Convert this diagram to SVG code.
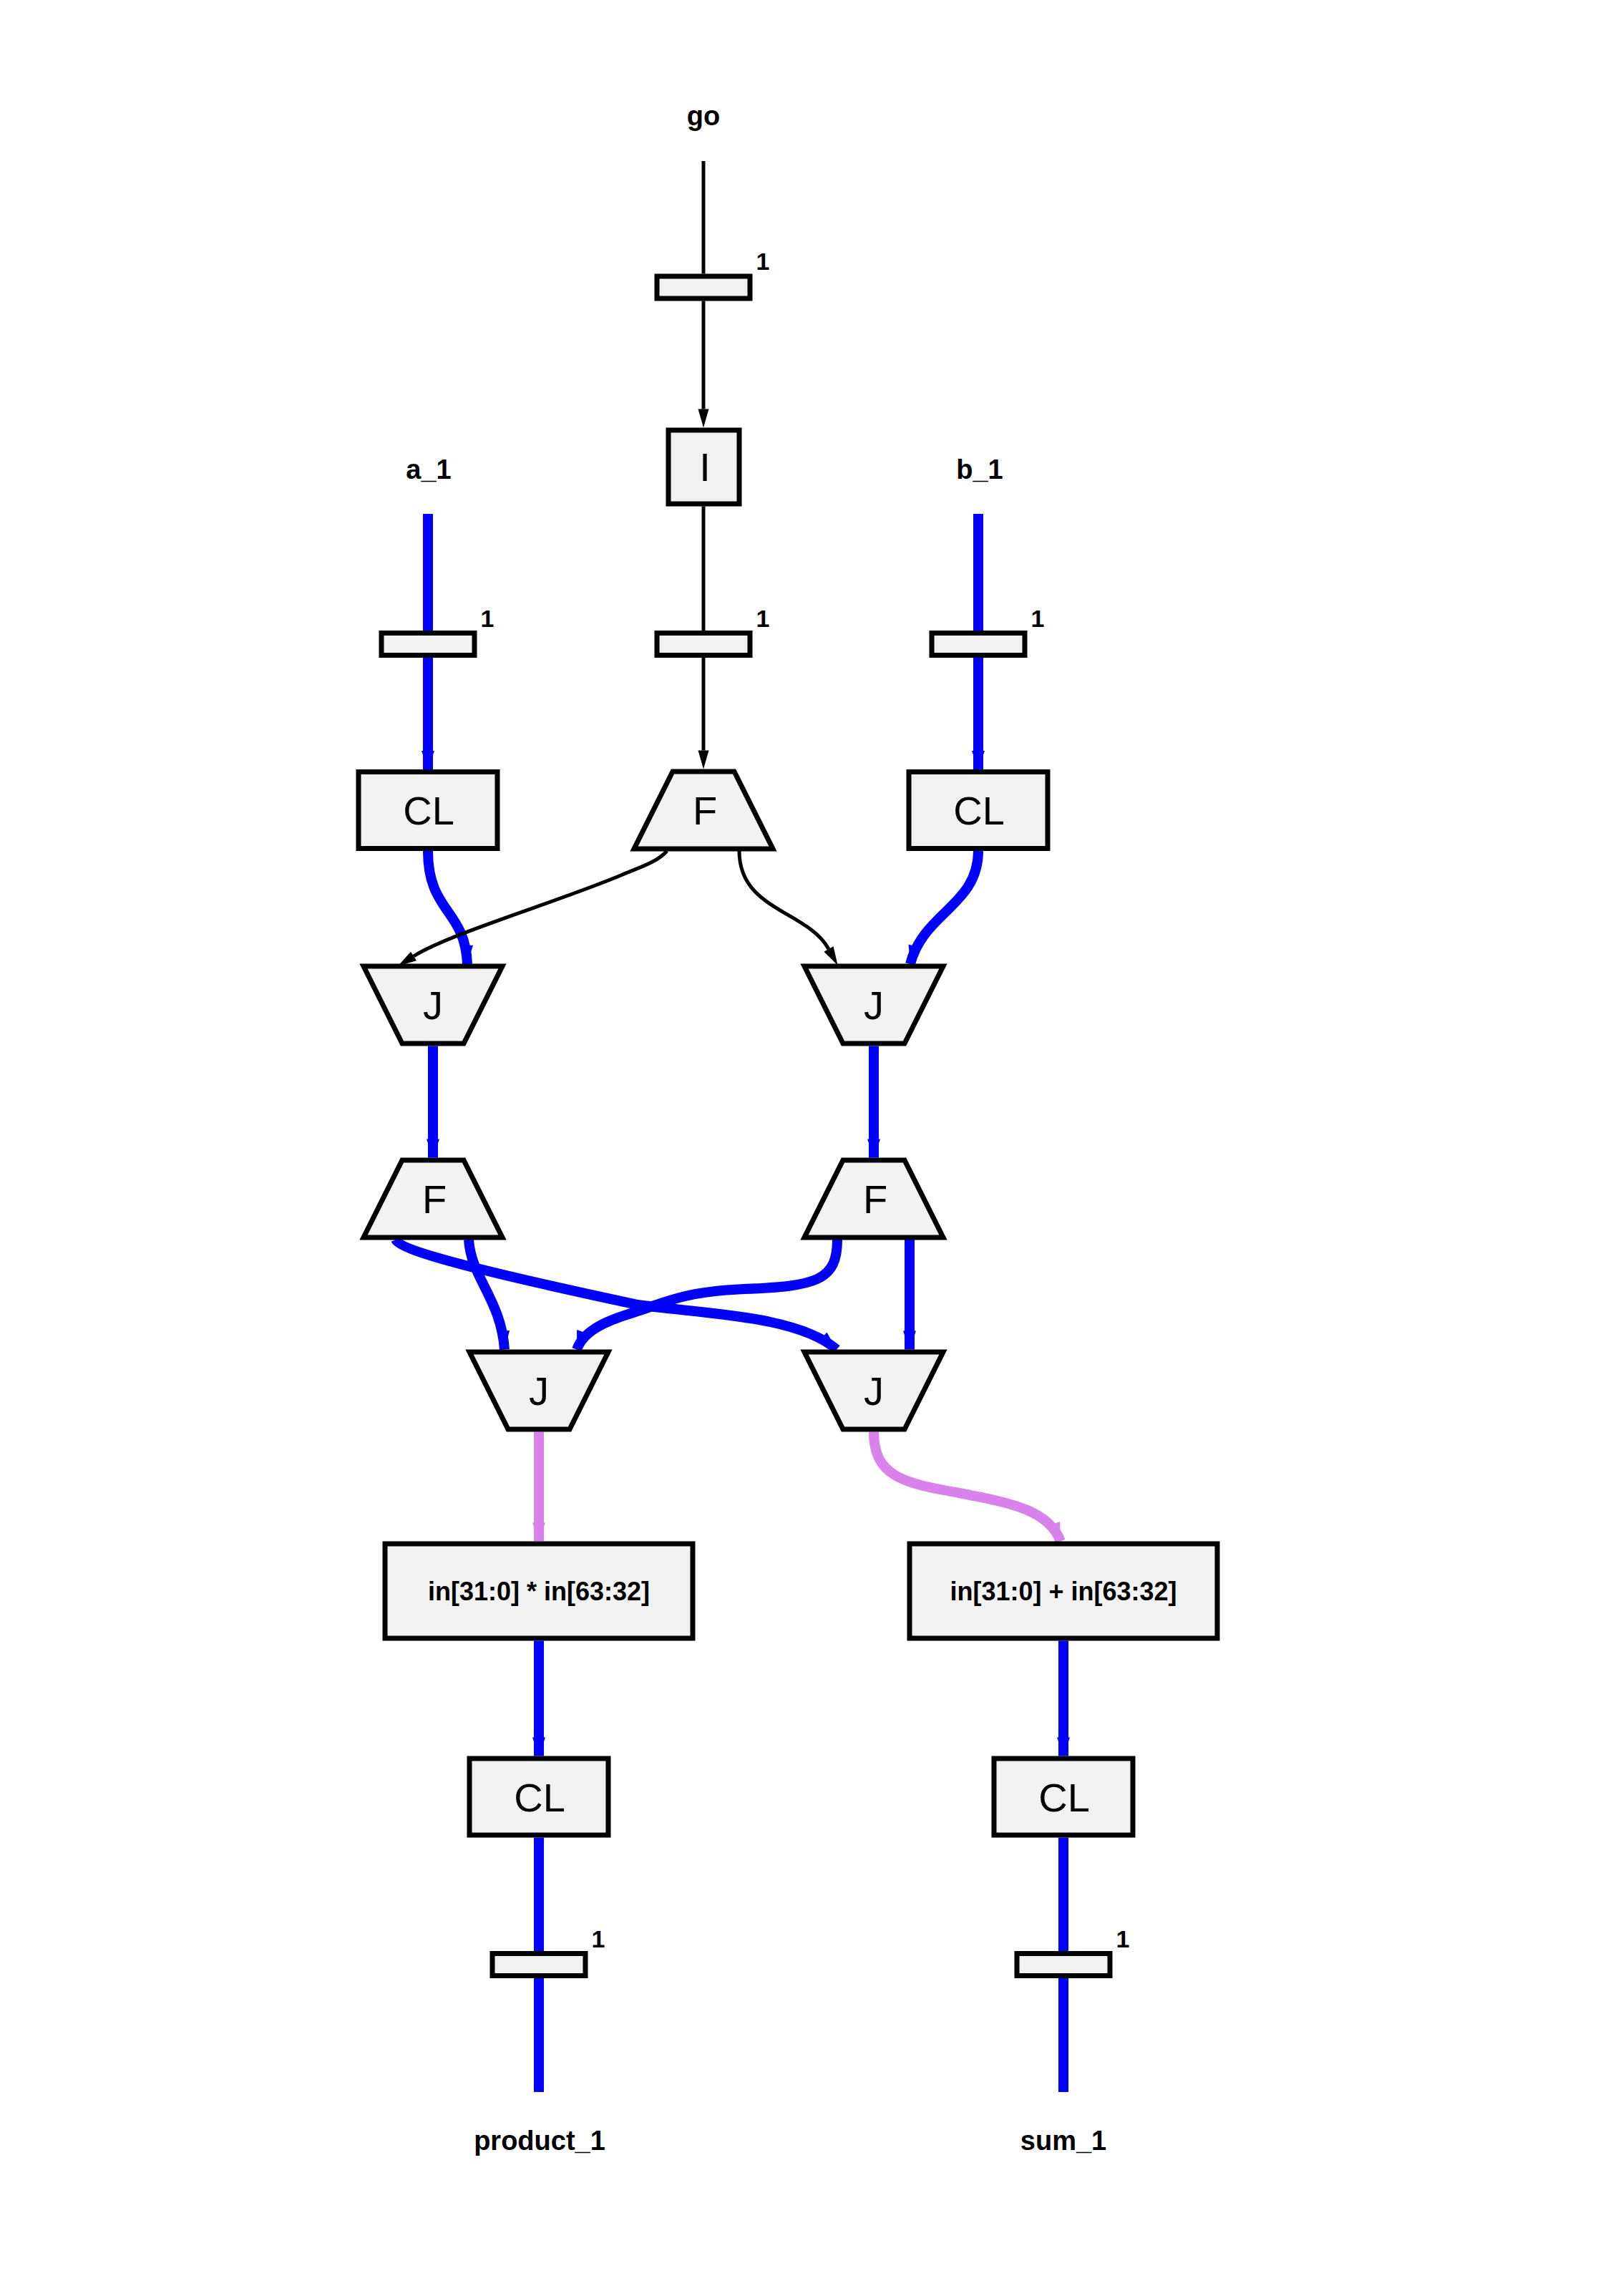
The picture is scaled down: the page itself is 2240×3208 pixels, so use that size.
<svg xmlns="http://www.w3.org/2000/svg" width="2240" height="3208" viewBox="0 0 2240 3208">
<style>
.n{fill:#f2f2f2;stroke:#000;stroke-width:7}
.t{font-family:"Liberation Sans",Arial,Helvetica,sans-serif;font-size:56px;text-anchor:middle;fill:#000}
.lb{font-family:"Liberation Sans",Arial,Helvetica,sans-serif;font-weight:bold;font-size:38px;text-anchor:middle;fill:#000}
.bx{font-family:"Liberation Sans",Arial,Helvetica,sans-serif;font-weight:bold;font-size:36px;text-anchor:middle;fill:#000}
.r{font-family:"Liberation Sans",Arial,Helvetica,sans-serif;font-weight:bold;font-size:34px;text-anchor:middle;fill:#000}
.k{fill:none;stroke:#000;stroke-width:5}
.b{fill:none;stroke:#0000ff;stroke-width:14}
.p{fill:none;stroke:#da82ec;stroke-width:14}
</style>
<defs>
<marker id="ak" markerUnits="userSpaceOnUse" markerWidth="30" markerHeight="18" refX="0" refY="8" orient="auto" overflow="visible"><path d="M0,0.5 L26,8 L0,15.5 z" fill="#000"/></marker>
<marker id="ab" markerUnits="userSpaceOnUse" markerWidth="30" markerHeight="20" refX="26" refY="9" orient="auto" overflow="visible"><path d="M0,0 L26,9 L0,18 z" fill="#0000ff"/></marker>
<marker id="ap" markerUnits="userSpaceOnUse" markerWidth="30" markerHeight="20" refX="26" refY="9" orient="auto" overflow="visible"><path d="M0,0 L26,9 L0,18 z" fill="#da82ec"/></marker>
</defs>
<rect x="0" y="0" width="2240" height="3208" fill="#fff"/>

<g id="connectors">
<path class="k" d="M983,225 V382.5"/>
<path class="k" d="M983,420.5 V571.5" marker-end="url(#ak)"/>
<path class="k" d="M983,707.5 V881"/>
<path class="k" d="M983,918.5 V1048.5" marker-end="url(#ak)"/>
<path class="b" d="M598,718 V881"/>
<path class="b" d="M598,918 V1075" marker-end="url(#ab)"/>
<path class="b" d="M1367,718 V881"/>
<path class="b" d="M1367,918 V1075" marker-end="url(#ab)"/>
<path class="b" d="M598,1189 C598,1275 650,1270 653,1347" marker-end="url(#ab)"/>
<path class="k" d="M932,1189 C918,1205 893,1212 870,1222 C780,1260 629,1304 578,1336" marker-end="url(#ak)"/>
<path class="k" d="M1033,1189 C1033,1272 1128,1272 1158,1326" marker-end="url(#ak)"/>
<path class="b" d="M1367,1189 C1367,1265 1290,1275 1272,1347" marker-end="url(#ab)"/>
<path class="b" d="M605,1461.5 V1617.5" marker-end="url(#ab)"/>
<path class="b" d="M1221,1461.5 V1617.5" marker-end="url(#ab)"/>
<path class="b" d="M553,1732 C560,1748 680,1778 891,1823 C985,1836 1115,1838 1169,1885.5" marker-end="url(#ab)"/>
<path class="b" d="M655,1732 C658,1785 700,1815 705,1885.5" marker-end="url(#ab)"/>
<path class="b" d="M1170,1732 C1170,1790 1140,1797 1040,1801 C950,1805 925,1822 885,1834 C845,1846 815,1860 806,1885.5" marker-end="url(#ab)"/>
<path class="b" d="M1271,1732 V1885.5" marker-end="url(#ab)"/>
<path class="p" d="M753,2000.5 V2153.5" marker-end="url(#ap)"/>
<path class="p" d="M1221,2000.5 C1221,2065 1265,2072 1340,2086 C1420,2101 1466,2112 1482,2153.5" marker-end="url(#ap)"/>
<path class="b" d="M753,2292.5 V2453.5" marker-end="url(#ab)"/>
<path class="b" d="M753,2567.5 V2726"/>
<path class="b" d="M753,2764 V2923"/>
<path class="b" d="M1486,2292.5 V2453.5" marker-end="url(#ab)"/>
<path class="b" d="M1486,2567.5 V2726"/>
<path class="b" d="M1486,2764 V2923"/>
</g>

<g id="go"><text class="lb" x="983" y="175">go</text></g>
<g id="reg_go"><rect class="n" x="918" y="386" width="130" height="31"/><text class="r" x="1066" y="377">1</text></g>
<g id="I"><rect class="n" x="934" y="601" width="99" height="103"/><text class="t" x="985" y="672">I</text></g>
<g id="reg_i"><rect class="n" x="918" y="884.5" width="130" height="31"/><text class="r" x="1066" y="875.5">1</text></g>
<g id="F_top"><polygon class="n" points="940,1078 1026,1078 1080,1186 886,1186"/><text class="t" x="985" y="1152">F</text></g>

<g id="a_1"><text class="lb" x="599" y="669">a_1</text></g>
<g id="reg_a"><rect class="n" x="533" y="884.5" width="130" height="31"/><text class="r" x="681" y="875.5">1</text></g>
<g id="CL_a"><rect class="n" x="501" y="1078.5" width="194" height="107"/><text class="t" x="599" y="1152">CL</text></g>

<g id="b_1"><text class="lb" x="1369" y="669">b_1</text></g>
<g id="reg_b"><rect class="n" x="1302" y="884.5" width="130" height="31"/><text class="r" x="1450" y="875.5">1</text></g>
<g id="CL_b"><rect class="n" x="1270" y="1078.5" width="194" height="107"/><text class="t" x="1368" y="1152">CL</text></g>

<g id="J1L"><polygon class="n" points="508,1350 702,1350 648,1458 562,1458"/><text class="t" x="605" y="1424">J</text></g>
<g id="J1R"><polygon class="n" points="1124,1350 1318,1350 1264,1458 1178,1458"/><text class="t" x="1221" y="1424">J</text></g>
<g id="F2L"><polygon class="n" points="562,1621 648,1621 702,1729 508,1729"/><text class="t" x="607" y="1695">F</text></g>
<g id="F2R"><polygon class="n" points="1178,1621 1264,1621 1318,1729 1124,1729"/><text class="t" x="1223" y="1695">F</text></g>
<g id="J3L"><polygon class="n" points="656,1889 850,1889 796,1997 710,1997"/><text class="t" x="753" y="1963">J</text></g>
<g id="J3R"><polygon class="n" points="1124,1889 1318,1889 1264,1997 1178,1997"/><text class="t" x="1221" y="1963">J</text></g>

<g id="mul"><rect class="n" x="538" y="2157" width="430" height="132"/><text class="bx" x="753" y="2236">in[31:0] * in[63:32]</text></g>
<g id="add"><rect class="n" x="1271" y="2157" width="430" height="132"/><text class="bx" x="1486" y="2236">in[31:0] + in[63:32]</text></g>
<g id="CL_p"><rect class="n" x="656" y="2457" width="194" height="107"/><text class="t" x="754" y="2531">CL</text></g>
<g id="CL_s"><rect class="n" x="1389" y="2457" width="194" height="107"/><text class="t" x="1487" y="2531">CL</text></g>
<g id="reg_p"><rect class="n" x="688" y="2729.5" width="130" height="31"/><text class="r" x="836" y="2720.5">1</text></g>
<g id="reg_s"><rect class="n" x="1421" y="2729.5" width="130" height="31"/><text class="r" x="1569" y="2720.5">1</text></g>
<g id="product_1"><text class="lb" x="754" y="3004">product_1</text></g>
<g id="sum_1"><text class="lb" x="1486" y="3004">sum_1</text></g>
</svg>
